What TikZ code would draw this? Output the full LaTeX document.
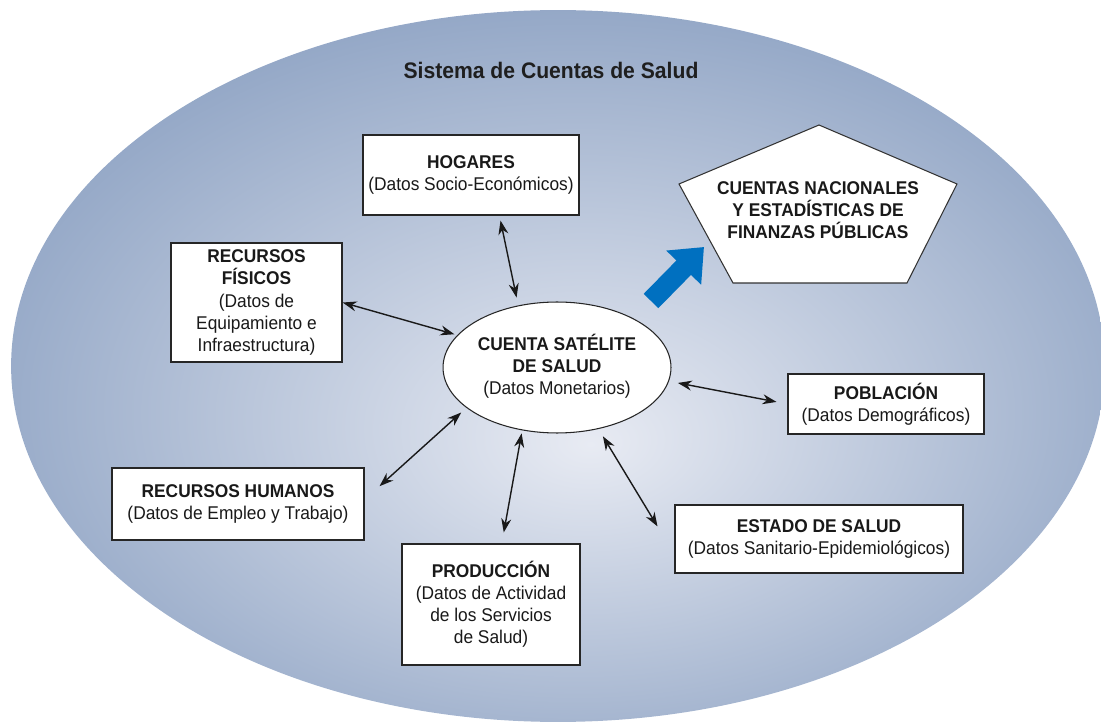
\documentclass[tikz,border=0pt]{standalone}
\usepackage{fontspec}
\setmainfont{Liberation Sans}[FakeStretch=0.94]
\usepackage{tikz}
\usetikzlibrary{shapes}
\usetikzlibrary{positioning,arrows.meta}
\usepackage{xcolor}
\definecolor{fondoout}{RGB}{126,150,187}
\definecolor{fondoin}{RGB}{232,235,243}
\definecolor{azulflecha}{RGB}{0,112,192}
\pgfdeclareradialshading{fondo}{\pgfpoint{1.5bp}{-5.5bp}}{color(0bp)=(fondoin); color(35bp)=(fondoout); color(50bp)=(fondoout)}
\tikzset{
  caja/.style={draw=black!85, line width=0.8pt, fill=white, align=center, inner sep=0pt,
    text=black!90, font=\fontsize{10.5}{12.6}\selectfont},
  enlace/.style={<->, >={Stealth[length=0.28cm,width=0.2cm]}, line width=0.8pt, black!90}
}

\begin{document}
\begin{tikzpicture}[x=0.02cm,y=-0.02cm]
\useasboundingbox (0,0) rectangle (1101,722);
\shade[shading=fondo] (558,366) ellipse [x radius=10.94cm, y radius=7.12cm];
\node[font=\bfseries\fontsize{12.8}{15}\selectfont, text=black!88] (titulo) at (551,70) {Sistema de Cuentas de Salud};

\node[caja, minimum width=4.32cm, minimum height=1.6cm] (hogares) at (471,175)
  {\textbf{HOGARES}\\(Datos Socio-Económicos)};
\node[caja, minimum width=3.42cm, minimum height=2.38cm] (fisicos) at (256.5,302.5)
  {\textbf{RECURSOS}\\\textbf{FÍSICOS}\\(Datos de\\Equipamiento e\\Infraestructura)};
\node[caja, minimum width=5.04cm, minimum height=1.44cm] (humanos) at (238,504)
  {\textbf{RECURSOS HUMANOS}\\(Datos de Empleo y Trabajo)};
\node[caja, minimum width=3.56cm, minimum height=2.42cm] (produccion) at (491,604.5)
  {\textbf{PRODUCCIÓN}\\(Datos de Actividad\\de los Servicios\\de Salud)};
\node[caja, minimum width=5.76cm, minimum height=1.36cm] (estado) at (819,539)
  {\textbf{ESTADO DE SALUD}\\(Datos Sanitario-Epidemiológicos)};
\node[caja, minimum width=3.92cm, minimum height=1.2cm] (poblacion) at (886,404)
  {\textbf{POBLACIÓN}\\(Datos Demográficos)};

\node[ellipse, draw=black!85, line width=0.6pt, fill=white, inner sep=0pt,
  minimum width=4.56cm, minimum height=2.62cm] (cta) at (557,367.5) {};
\node[align=center, text=black!90, font=\fontsize{10.5}{12.6}\selectfont] (ctatexto) at (557,366)
  {\textbf{CUENTA SATÉLITE}\\\textbf{DE SALUD}\\(Datos Monetarios)};

% pentagono
\draw[fill=white, draw=black!80, line width=0.6pt] (819,125) -- (957,184) -- (907,283) -- (733,283) -- (679,184) -- cycle;
\node[align=center, text=black!90, font=\bfseries\fontsize{10.5}{12.4}\selectfont] (cuentas) at (818,210)
  {CUENTAS NACIONALES\\Y ESTADÍSTICAS DE\\FINANZAS PÚBLICAS};

\coordinate (azul1) at (651,301);
\coordinate (azul2) at (704,247);
\draw[draw=azulflecha, line width=0.41cm, -{Triangle[length=0.58cm,width=0.94cm]}] (azul1) -- (azul2);

\draw[enlace, shorten <=0.1cm, shorten >=0.16cm] (hogares.-55) -- (cta.122.6);
\draw[enlace, shorten >=0.06cm] (fisicos.east) -- (cta.162.5);
\draw[enlace, shorten <=0.4cm, shorten >=0.14cm] (humanos.2.7) -- (cta.204.8);
\draw[enlace, shorten <=0.22cm, shorten >=0.06cm] (produccion.80.7) -- (cta.241.1);
\draw[enlace, shorten <=0.65cm, shorten >=0.17cm] (estado.186.2) -- (cta.-56.5);
\draw[enlace, shorten <=0.22cm, shorten >=0.18cm] (poblacion.west) -- (cta.-7.1);
\end{tikzpicture}
\end{document}
